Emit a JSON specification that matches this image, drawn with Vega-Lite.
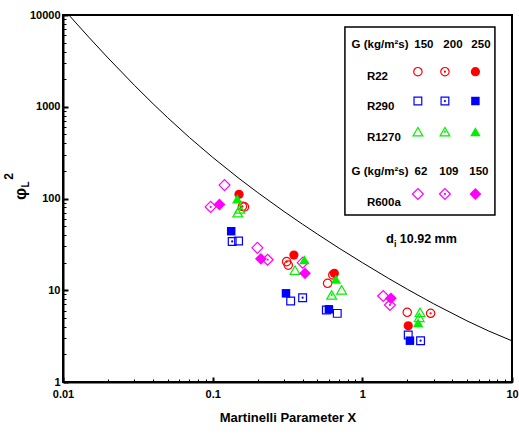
{
  "$schema": "https://vega.github.io/schema/vega-lite/v6.json",
  "width": 449,
  "height": 367,
  "autosize": {"type": "none"},
  "padding": {"left": 63, "top": 15, "right": 7, "bottom": 55},
  "config": {
    "view": {"stroke": "black", "strokeWidth": 2},
    "font": "Liberation Sans",
    "text": {"font": "Liberation Sans", "fontWeight": "bold", "color": "black"}
  },
  "datasets": {
    "curve": [
      {"x": 0.0108, "y": 10241}, {"x": 0.011, "y": 9901}, {"x": 0.015, "y": 5645}, {"x": 0.02, "y": 3401},
      {"x": 0.03, "y": 1712}, {"x": 0.04, "y": 1076}, {"x": 0.05, "y": 761}, {"x": 0.07, "y": 462},
      {"x": 0.1, "y": 281}, {"x": 0.15, "y": 165.4}, {"x": 0.2, "y": 116}, {"x": 0.3, "y": 72.1},
      {"x": 0.4, "y": 52.25}, {"x": 0.5, "y": 41}, {"x": 0.7, "y": 28.7}, {"x": 1, "y": 20},
      {"x": 1.5, "y": 13.44}, {"x": 2, "y": 10.25}, {"x": 3, "y": 7.11}, {"x": 5, "y": 4.64},
      {"x": 7, "y": 3.59}, {"x": 10, "y": 2.81}
    ],
    "pts": [
      {"ref": "R600a", "style": "open", "x": 0.12, "y": 140},
      {"ref": "R600a", "style": "dot", "x": 0.097, "y": 81},
      {"ref": "R600a", "style": "filled", "x": 0.111, "y": 86},
      {"ref": "R22", "style": "open", "x": 0.163, "y": 81},
      {"ref": "R22", "style": "dot", "x": 0.158, "y": 82},
      {"ref": "R22", "style": "filled", "x": 0.15, "y": 111},
      {"ref": "R1270", "style": "open", "x": 0.147, "y": 70},
      {"ref": "R1270", "style": "dot", "x": 0.152, "y": 77},
      {"ref": "R1270", "style": "filled", "x": 0.146, "y": 99},
      {"ref": "R290", "style": "open", "x": 0.149, "y": 34.5},
      {"ref": "R290", "style": "dot", "x": 0.135, "y": 34},
      {"ref": "R290", "style": "filled", "x": 0.133, "y": 44},
      {"ref": "R600a", "style": "open", "x": 0.199, "y": 29},
      {"ref": "R600a", "style": "filled", "x": 0.21, "y": 22},
      {"ref": "R600a", "style": "dot", "x": 0.233, "y": 21.5},

      {"ref": "R22", "style": "open", "x": 0.32, "y": 18.8},
      {"ref": "R22", "style": "dot", "x": 0.312, "y": 20.5},
      {"ref": "R22", "style": "filled", "x": 0.349, "y": 24.2},
      {"ref": "R1270", "style": "open", "x": 0.355, "y": 16.6},
      {"ref": "R600a", "style": "open", "x": 0.4, "y": 20},
      {"ref": "R1270", "style": "filled", "x": 0.41, "y": 21.5},
      {"ref": "R600a", "style": "filled", "x": 0.414, "y": 15.3},
      {"ref": "R290", "style": "filled", "x": 0.309, "y": 9.26},
      {"ref": "R290", "style": "open", "x": 0.332, "y": 7.63},
      {"ref": "R290", "style": "dot", "x": 0.399, "y": 8.29},

      {"ref": "R22", "style": "open", "x": 0.586, "y": 11.9},
      {"ref": "R22", "style": "dot", "x": 0.635, "y": 14.7},
      {"ref": "R22", "style": "filled", "x": 0.65, "y": 15.3},
      {"ref": "R1270", "style": "filled", "x": 0.666, "y": 13.2},
      {"ref": "R1270", "style": "dot", "x": 0.624, "y": 8.9},
      {"ref": "R1270", "style": "open", "x": 0.727, "y": 10.1},
      {"ref": "R290", "style": "dot", "x": 0.575, "y": 6.1},
      {"ref": "R290", "style": "filled", "x": 0.598, "y": 6.2},
      {"ref": "R290", "style": "open", "x": 0.68, "y": 5.6},

      {"ref": "R600a", "style": "open", "x": 1.379, "y": 8.66},
      {"ref": "R600a", "style": "filled", "x": 1.552, "y": 8.17},
      {"ref": "R600a", "style": "dot", "x": 1.529, "y": 6.91},
      {"ref": "R22", "style": "open", "x": 1.995, "y": 5.75},
      {"ref": "R22", "style": "dot", "x": 2.86, "y": 5.61},
      {"ref": "R22", "style": "filled", "x": 2.026, "y": 4.1},
      {"ref": "R1270", "style": "open", "x": 2.43, "y": 5.75},
      {"ref": "R1270", "style": "dot", "x": 2.4, "y": 5.07},
      {"ref": "R1270", "style": "filled", "x": 2.36, "y": 4.43},
      {"ref": "R290", "style": "open", "x": 2.026, "y": 3.25},
      {"ref": "R290", "style": "filled", "x": 2.08, "y": 2.82},
      {"ref": "R290", "style": "dot", "x": 2.45, "y": 2.82},

      {"ref": "R22", "style": "open", "x": 2.351, "y": 2410},
      {"ref": "R22", "style": "dot", "x": 3.564, "y": 2410},
      {"ref": "R22", "style": "filled", "x": 5.695, "y": 2410},
      {"ref": "R290", "style": "open", "x": 2.351, "y": 1155},
      {"ref": "R290", "style": "dot", "x": 3.564, "y": 1155},
      {"ref": "R290", "style": "filled", "x": 5.695, "y": 1155},
      {"ref": "R1270", "style": "open", "x": 2.351, "y": 535},
      {"ref": "R1270", "style": "dot", "x": 3.564, "y": 535},
      {"ref": "R1270", "style": "filled", "x": 5.695, "y": 535},
      {"ref": "R600a", "style": "open", "x": 2.351, "y": 112},
      {"ref": "R600a", "style": "dot", "x": 3.564, "y": 112},
      {"ref": "R600a", "style": "filled", "x": 5.695, "y": 112}
    ],
    "box": [{"x": 0.765, "x2": 7.69, "y": 66.1, "y2": 7400}],
    "legLeft": [
      {"t": "G (kg/m²s)", "x": 0.848, "y": 4710},
      {"t": "R22", "x": 1.073, "y": 2126},
      {"t": "R290", "x": 1.073, "y": 986},
      {"t": "R1270", "x": 1.073, "y": 453},
      {"t": "G (kg/m²s)", "x": 0.848, "y": 196},
      {"t": "R600a", "x": 1.073, "y": 88.7}
    ],
    "legCenter": [
      {"t": "150", "x": 2.579, "y": 4710},
      {"t": "200", "x": 4.03, "y": 4710},
      {"t": "250", "x": 6.2, "y": 4710},
      {"t": "62", "x": 2.463, "y": 196},
      {"t": "109", "x": 3.788, "y": 196},
      {"t": "150", "x": 6.008, "y": 196}
    ],
    "dtxt": [{"t": "d", "x": 1.53, "y": 36.2}],
    "itxt": [{"t": "i", "x": 1.66, "y": 32.2}],
    "mmtxt": [{"t": "10.92 mm", "x": 1.78, "y": 36.2}],
    "phi": [{"t": "φ", "x": 0.00528, "y": 112}],
    "phiL": [{"t": "L", "x": 0.00566, "y": 142}],
    "phi2": [{"t": "2", "x": 0.00439, "y": 174}]
  },
  "resolve": {"axis": {"x": "independent", "y": "independent"}},
  "layer": [
    {
      "data": {"name": "box"},
      "mark": {"type": "rect", "fill": "white", "stroke": "black", "strokeWidth": 1.5},
      "encoding": {
        "x": {"field": "x", "type": "quantitative", "scale": {"type": "log", "domain": [0.01, 10]}, "axis": null},
        "x2": {"field": "x2"},
        "y": {"field": "y", "type": "quantitative", "scale": {"type": "log", "domain": [1, 10000]}, "axis": null},
        "y2": {"field": "y2"}
      }
    },
    {
      "data": {"name": "curve"},
      "mark": {"type": "line", "color": "black", "strokeWidth": 1, "clip": true},
      "encoding": {
        "x": {"field": "x", "type": "quantitative", "scale": {"type": "log", "domain": [0.01, 10]},
          "axis": {"orient": "bottom", "values": [0.02,0.03,0.04,0.05,0.06,0.07,0.08,0.09,0.2,0.3,0.4,0.5,0.6,0.7,0.8,0.9,2,3,4,5,6,7,8,9],
            "labels": false, "domain": false, "grid": false, "title": null, "tickSize": -3, "tickWidth": 1, "tickColor": "black"}},
        "y": {"field": "y", "type": "quantitative", "scale": {"type": "log", "domain": [1, 10000]},
          "axis": {"orient": "left", "values": [2,3,4,5,6,7,8,9,20,30,40,50,60,70,80,90,200,300,400,500,600,700,800,900,2000,3000,4000,5000,6000,7000,8000,9000],
            "labels": false, "domain": false, "grid": false, "title": null, "tickSize": -3, "tickWidth": 1, "tickColor": "black"}}
      }
    },
    {
      "data": {"name": "pts"},
      "transform": [{"filter": "datum.style != 'filled'"}],
      "mark": {"type": "point", "filled": false, "strokeWidth": 1.2, "opacity": 1},
      "encoding": {
        "x": {"field": "x", "type": "quantitative", "scale": {"type": "log", "domain": [0.01, 10]},
          "axis": {"orient": "bottom", "values": [0.01, 0.1, 1, 10], "labelExpr": "'' + datum.value", "title": "Martinelli Parameter X",
            "tickSize": -5, "tickWidth": 2, "tickColor": "black", "domainWidth": 2, "domainColor": "black", "grid": false,
            "labelFont": "Liberation Sans", "labelFontSize": 11, "labelFontWeight": "bold", "labelColor": "black", "labelPadding": 11,
            "labelFlush": false, "labelOverlap": false,
            "titleFont": "Liberation Sans", "titleFontSize": 13, "titleFontWeight": "bold", "titleColor": "black", "titlePadding": 12}},
        "y": {"field": "y", "type": "quantitative", "scale": {"type": "log", "domain": [1, 10000]},
          "axis": {"orient": "left", "values": [1, 10, 100, 1000, 10000], "labelExpr": "'' + datum.value", "title": null,
            "tickSize": -5, "tickWidth": 2, "tickColor": "black", "domainWidth": 2, "domainColor": "black", "grid": false,
            "labelFont": "Liberation Sans", "labelFontSize": 11, "labelFontWeight": "bold", "labelColor": "black", "labelPadding": 8,
            "labelFlush": false, "labelOverlap": false}},
        "color": {"field": "ref", "type": "nominal", "scale": {"domain": ["R22", "R290", "R1270", "R600a"], "range": ["#ff0000", "#0000ff", "#00f000", "#ff00ff"]}, "legend": null},
        "shape": {"field": "ref", "type": "nominal", "scale": {"domain": ["R22", "R290", "R1270", "R600a"], "range": ["circle", "square", "triangle-up", "diamond"]}, "legend": null},
        "size": {"condition": [{"test": "datum.ref == 'R600a'", "value": 120}, {"test": "datum.ref == 'R1270'", "value": 95}, {"test": "datum.ref == 'R290'", "value": 60}], "value": 70}
      }
    },
    {
      "data": {"name": "pts"},
      "transform": [{"filter": "datum.style == 'filled'"}],
      "mark": {"type": "point", "filled": true, "opacity": 1},
      "encoding": {
        "x": {"field": "x", "type": "quantitative", "scale": {"type": "log", "domain": [0.01, 10]}, "axis": null},
        "y": {"field": "y", "type": "quantitative", "scale": {"type": "log", "domain": [1, 10000]}, "axis": null},
        "color": {"field": "ref", "type": "nominal", "scale": {"domain": ["R22", "R290", "R1270", "R600a"], "range": ["#ff0000", "#0000ff", "#00f000", "#ff00ff"]}, "legend": null},
        "shape": {"field": "ref", "type": "nominal", "scale": {"domain": ["R22", "R290", "R1270", "R600a"], "range": ["circle", "square", "triangle-up", "diamond"]}, "legend": null},
        "size": {"condition": [{"test": "datum.ref == 'R600a'", "value": 140}, {"test": "datum.ref == 'R1270'", "value": 110}, {"test": "datum.ref == 'R290'", "value": 72}], "value": 85}
      }
    },
    {
      "data": {"name": "pts"},
      "transform": [{"filter": "datum.style == 'dot'"}],
      "mark": {"type": "circle", "size": 5, "opacity": 1},
      "encoding": {
        "x": {"field": "x", "type": "quantitative", "scale": {"type": "log", "domain": [0.01, 10]}, "axis": null},
        "y": {"field": "y", "type": "quantitative", "scale": {"type": "log", "domain": [1, 10000]}, "axis": null},
        "color": {"field": "ref", "type": "nominal", "scale": {"domain": ["R22", "R290", "R1270", "R600a"], "range": ["#ff0000", "#0000ff", "#00f000", "#ff00ff"]}, "legend": null}
      }
    },
    {
      "data": {"name": "legLeft"},
      "mark": {"type": "text", "align": "left", "baseline": "middle", "fontSize": 11.5},
      "encoding": {
        "x": {"field": "x", "type": "quantitative", "scale": {"type": "log", "domain": [0.01, 10]}, "axis": null},
        "y": {"field": "y", "type": "quantitative", "scale": {"type": "log", "domain": [1, 10000]}, "axis": null},
        "text": {"field": "t"}
      }
    },
    {
      "data": {"name": "legCenter"},
      "mark": {"type": "text", "align": "center", "baseline": "middle", "fontSize": 11.5},
      "encoding": {
        "x": {"field": "x", "type": "quantitative", "scale": {"type": "log", "domain": [0.01, 10]}, "axis": null},
        "y": {"field": "y", "type": "quantitative", "scale": {"type": "log", "domain": [1, 10000]}, "axis": null},
        "text": {"field": "t"}
      }
    },
    {
      "data": {"name": "dtxt"},
      "mark": {"type": "text", "align": "center", "baseline": "middle", "fontSize": 13},
      "encoding": {
        "x": {"field": "x", "type": "quantitative", "scale": {"type": "log", "domain": [0.01, 10]}, "axis": null},
        "y": {"field": "y", "type": "quantitative", "scale": {"type": "log", "domain": [1, 10000]}, "axis": null},
        "text": {"field": "t"}
      }
    },
    {
      "data": {"name": "itxt"},
      "mark": {"type": "text", "align": "center", "baseline": "middle", "fontSize": 9},
      "encoding": {
        "x": {"field": "x", "type": "quantitative", "scale": {"type": "log", "domain": [0.01, 10]}, "axis": null},
        "y": {"field": "y", "type": "quantitative", "scale": {"type": "log", "domain": [1, 10000]}, "axis": null},
        "text": {"field": "t"}
      }
    },
    {
      "data": {"name": "mmtxt"},
      "mark": {"type": "text", "align": "left", "baseline": "middle", "fontSize": 12.5},
      "encoding": {
        "x": {"field": "x", "type": "quantitative", "scale": {"type": "log", "domain": [0.01, 10]}, "axis": null},
        "y": {"field": "y", "type": "quantitative", "scale": {"type": "log", "domain": [1, 10000]}, "axis": null},
        "text": {"field": "t"}
      }
    },
    {
      "data": {"name": "phi"},
      "mark": {"type": "text", "align": "center", "baseline": "middle", "fontSize": 17, "angle": 270},
      "encoding": {
        "x": {"field": "x", "type": "quantitative", "scale": {"type": "log", "domain": [0.01, 10]}, "axis": null},
        "y": {"field": "y", "type": "quantitative", "scale": {"type": "log", "domain": [1, 10000]}, "axis": null},
        "text": {"field": "t"}
      }
    },
    {
      "data": {"name": "phiL"},
      "mark": {"type": "text", "align": "center", "baseline": "middle", "fontSize": 10, "angle": 270},
      "encoding": {
        "x": {"field": "x", "type": "quantitative", "scale": {"type": "log", "domain": [0.01, 10]}, "axis": null},
        "y": {"field": "y", "type": "quantitative", "scale": {"type": "log", "domain": [1, 10000]}, "axis": null},
        "text": {"field": "t"}
      }
    },
    {
      "data": {"name": "phi2"},
      "mark": {"type": "text", "align": "center", "baseline": "middle", "fontSize": 12, "angle": 270},
      "encoding": {
        "x": {"field": "x", "type": "quantitative", "scale": {"type": "log", "domain": [0.01, 10]}, "axis": null},
        "y": {"field": "y", "type": "quantitative", "scale": {"type": "log", "domain": [1, 10000]}, "axis": null},
        "text": {"field": "t"}
      }
    }
  ]
}
